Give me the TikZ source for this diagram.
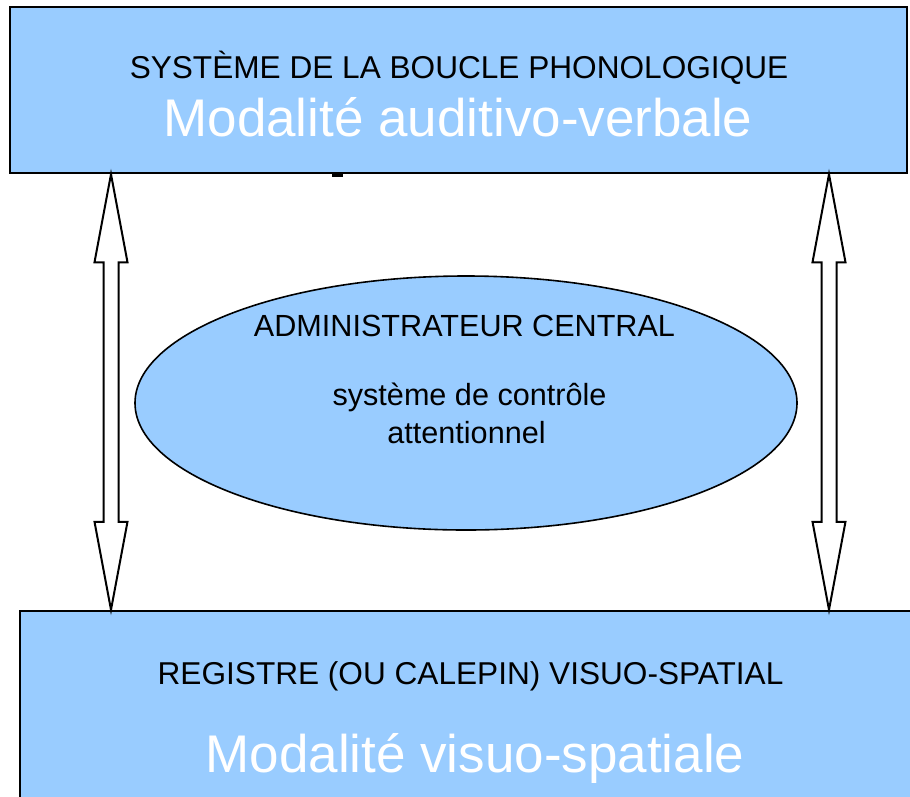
\documentclass[tikz,border=0pt]{standalone}
\usepackage{fontspec}
\setmainfont{Liberation Sans}
\usetikzlibrary{calc,shapes.geometric}
\definecolor{boxblue}{HTML}{99CCFF}

\tikzset{
  box/.style={rectangle, draw=black, line width=2.5pt, fill=boxblue, inner sep=0pt},
  blob/.style={ellipse, draw=black, line width=1.6pt, fill=boxblue, inner sep=0pt},
  caps/.style={anchor=base, inner sep=0pt, font=\fontsize{30.6}{36}\selectfont},
  big/.style={anchor=base, inner sep=0pt, text=white, font=\fontsize{53}{60}\selectfont},
  linkarrow/.style={draw=black, fill=white, line width=2pt, line join=miter}
}

% hollow two-way arrow from tip #1 (top) to tip #2 (bottom)
\newcommand{\twoway}[2]{%
  \draw[linkarrow] (#1) -- ++(-16.5,88) -- ++(9,0) -- ($(#2)+(-7.5,-88)$)
    -- ++(-9,0) -- (#2) -- ++(16.5,-88) -- ++(-9,0) -- ($(#1)+(7.5,88)$)
    -- ++(9,0) -- cycle;}

\begin{document}
\begin{tikzpicture}[x=1pt,y=-1pt]
\useasboundingbox (0,0) rectangle (910,796);
\clip (0,0) rectangle (910,796);

% boxes
\node[box, minimum width=897pt, minimum height=166pt] (phono) at (458.5,90) {};
\node[box, minimum width=920pt, minimum height=230pt] (visuo) at (480,726) {};
\node[blob, minimum width=662pt, minimum height=254pt] (admin) at (466,403) {};

% texts
\node[caps, font=\fontsize{31.6}{36}\selectfont] (phonotitle) at (459,78) {SYSTÈME DE LA BOUCLE PHONOLOGIQUE};
\node[big] (phonomode) at (458,136) {Modalité auditivo-verbale};
\node[caps] (admintitle) at (464.5,336) {ADMINISTRATEUR CENTRAL};
\node[caps] (adminline1) at (469.5,405) {système de contrôle};
\node[caps] (adminline2) at (466.5,443) {attentionnel};
\node[caps, font=\fontsize{31.6}{36}\selectfont] (visuotitle) at (470.5,684) {REGISTRE (OU CALEPIN) VISUO-SPATIAL};
\node[big] (visuomode) at (475,772) {Modalité visuo-spatiale};

% small mark under the top box
\fill (332,173) rectangle (343,177);

% arrows
\coordinate (lx) at (111,0);
\coordinate (rx) at (829,0);
\twoway{phono.south -| lx}{visuo.north -| lx}
\twoway{phono.south -| rx}{visuo.north -| rx}
\end{tikzpicture}
\end{document}
